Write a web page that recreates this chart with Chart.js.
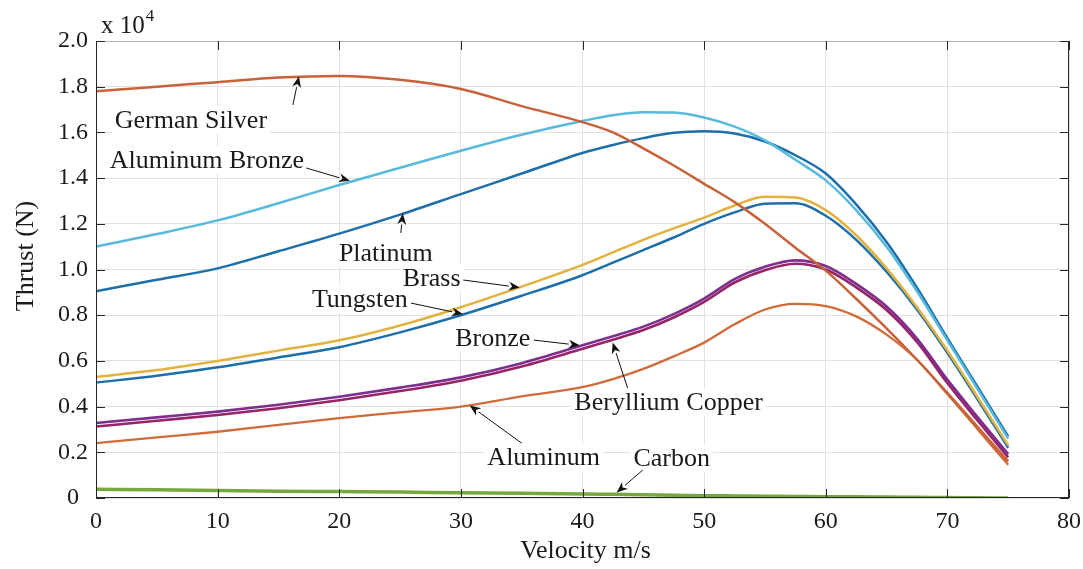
<!DOCTYPE html>
<html>
<head>
<meta charset="utf-8">
<script src="https://cdn.jsdelivr.net/npm/chart.js@4.4.1/dist/chart.umd.min.js"></script>
<style>
  html, body { margin: 0; padding: 0; background: #ffffff; }
  canvas { display: block; }
</style>
</head>
<body>
<canvas id="c" width="1083" height="569"></canvas>
<script>
// ---- Data (thrust in units of 10^4 N) ----
const velocity = [0, 5, 10, 15, 20, 25, 30, 35, 40, 42.5, 45, 47.5, 50, 52.5, 55, 57.5, 60, 62.5, 65, 67.5, 70, 72.5, 75];

const germanSilver   = [1.78, 1.80, 1.82, 1.84, 1.847, 1.83, 1.79, 1.715, 1.645, 1.60, 1.53, 1.455, 1.375, 1.295, 1.20, 1.095, 0.995, 0.872, 0.742, 0.605, 0.46, 0.31, 0.16];
const aluminumBronze = [1.10, 1.155, 1.215, 1.29, 1.37, 1.445, 1.52, 1.59, 1.65, 1.675, 1.688, 1.687, 1.665, 1.625, 1.565, 1.48, 1.39, 1.26, 1.10, 0.905, 0.69, 0.475, 0.26];
const platinum       = [0.905, 0.955, 1.005, 1.08, 1.157, 1.24, 1.33, 1.42, 1.51, 1.545, 1.575, 1.598, 1.605, 1.595, 1.56, 1.50, 1.42, 1.285, 1.12, 0.92, 0.70, 0.485, 0.27];
const brass          = [0.53, 0.56, 0.60, 0.645, 0.69, 0.755, 0.835, 0.925, 1.02, 1.075, 1.13, 1.18, 1.227, 1.28, 1.318, 1.315, 1.26, 1.15, 1.005, 0.835, 0.645, 0.44, 0.23];
const tungsten       = [0.505, 0.535, 0.572, 0.615, 0.66, 0.725, 0.80, 0.885, 0.975, 1.03, 1.085, 1.14, 1.20, 1.25, 1.288, 1.29, 1.235, 1.13, 0.99, 0.825, 0.635, 0.43, 0.22];
const bronze         = [0.328, 0.353, 0.378, 0.408, 0.443, 0.483, 0.528, 0.59, 0.668, 0.708, 0.75, 0.805, 0.873, 0.958, 1.012, 1.04, 1.015, 0.937, 0.838, 0.698, 0.518, 0.353, 0.192];
const berylliumCopper= [0.313, 0.338, 0.363, 0.393, 0.428, 0.468, 0.513, 0.575, 0.653, 0.693, 0.735, 0.79, 0.858, 0.943, 0.997, 1.025, 1.00, 0.922, 0.823, 0.683, 0.503, 0.338, 0.178];
const aluminum       = [0.24, 0.265, 0.29, 0.32, 0.35, 0.375, 0.40, 0.445, 0.485, 0.52, 0.565, 0.62, 0.68, 0.76, 0.825, 0.85, 0.84, 0.795, 0.715, 0.605, 0.455, 0.30, 0.145];
const carbon         = [0.038, 0.036, 0.033, 0.03, 0.028, 0.026, 0.023, 0.021, 0.018, 0.016, 0.014, 0.012, 0.01, 0.009, 0.008, 0.007, 0.006, 0.005, 0.004, 0.003, 0.002, 0.001, 0.0];

const xTicks = [0, 10, 20, 30, 40, 50, 60, 70, 80];
const yTicks = [0, 0.2, 0.4, 0.6, 0.8, 1.0, 1.2, 1.4, 1.6, 1.8, 2.0];
const yTickLabels = ['0', '0.2', '0.4', '0.6', '0.8', '1.0', '1.2', '1.4', '1.6', '1.8', '2.0'];

const seriesNames = ['German Silver', 'Aluminum Bronze', 'Platinum', 'Brass', 'Tungsten', 'Bronze', 'Beryllium Copper', 'Aluminum', 'Carbon'];
const seriesValues = [germanSilver, aluminumBronze, platinum, brass, tungsten, bronze, berylliumCopper, aluminum, carbon];

// ---- Styles ----
const seriesColors = ['#C8623A', '#58B9DC', '#1D6FAA', '#E2B23E', '#1D6FAA', '#7E2F8E', '#962466', '#D06C3A', '#76A83E'];
const seriesWidths = [2.5, 2.5, 2.5, 2.5, 2.5, 2.6, 2.6, 2.3, 3.5];

// callout labels: text, label centre (data coords), arrow tail and head (data coords)
const callouts = [
  { text: 'German Silver',    at: [7.8, 1.654],  from: [16.19, 1.72],  to: [16.68, 1.845] },
  { text: 'Aluminum Bronze',  at: [9.12, 1.479], from: [17.3, 1.444],  to: [20.87, 1.388] },
  { text: 'Platinum',         at: [23.83, 1.072],from: [25.06, 1.16],  to: [25.23, 1.245] },
  { text: 'Brass',            at: [27.6, 0.963], from: [30.2, 0.954],  to: [34.84, 0.921] },
  { text: 'Tungsten',         at: [21.69, 0.871],from: [25.9, 0.853],  to: [30.16, 0.805] },
  { text: 'Bronze',           at: [32.62, 0.70], from: [36.0, 0.691],  to: [39.77, 0.668] },
  { text: 'Beryllium Copper', at: [47.08, 0.42], from: [43.71, 0.481], to: [42.48, 0.68] },
  { text: 'Aluminum',         at: [36.81, 0.179],from: [35.0, 0.24],   to: [30.73, 0.405] },
  { text: 'Carbon',           at: [47.33, 0.175],from: [44.95, 0.122], to: [42.81, 0.024] }
];

const SERIF = "'Liberation Serif', 'Times New Roman', 'DejaVu Serif', serif";
const TEXT = '#1a1a1a';
const AXIS = '#262626';

const datasets = seriesNames.map((name, i) => ({
  label: name,
  data: velocity.map((v, k) => ({ x: v, y: seriesValues[i][k] })),
  borderColor: seriesColors[i],
  backgroundColor: seriesColors[i],
  borderWidth: seriesWidths[i],
  pointRadius: 0,
  cubicInterpolationMode: 'monotone',
  fill: false
}));

const decorPlugin = {
  id: 'decor',
  beforeDatasetsDraw(chart) {
    const ctx = chart.ctx, xs = chart.scales.x, ys = chart.scales.y;
    ctx.save();
    ctx.font = '26px ' + SERIF;
    ctx.fillStyle = '#ffffff';
    callouts.forEach(c => {
      const w = ctx.measureText(c.text).width;
      const px = xs.getPixelForValue(c.at[0]), py = ys.getPixelForValue(c.at[1]);
      ctx.fillRect(px - w / 2 - 3, py - 14, w + 6, 28);
    });
    ctx.restore();
  },
  afterDatasetsDraw(chart) {
    const ctx = chart.ctx, xs = chart.scales.x, ys = chart.scales.y;
    const a = chart.chartArea;
    ctx.save();
    // callouts
    ctx.font = '26px ' + SERIF;
    ctx.fillStyle = TEXT;
    ctx.textAlign = 'center';
    ctx.textBaseline = 'middle';
    callouts.forEach(c => {
      ctx.fillText(c.text, xs.getPixelForValue(c.at[0]), ys.getPixelForValue(c.at[1]) + 1);
      const x1 = xs.getPixelForValue(c.from[0]), y1 = ys.getPixelForValue(c.from[1]);
      const x2 = xs.getPixelForValue(c.to[0]), y2 = ys.getPixelForValue(c.to[1]);
      const ang = Math.atan2(y2 - y1, x2 - x1);
      const hl = 11, hw = 4.5;
      const bx = x2 - hl * Math.cos(ang), by = y2 - hl * Math.sin(ang);
      ctx.strokeStyle = '#111';
      ctx.lineWidth = 1;
      ctx.beginPath(); ctx.moveTo(x1, y1); ctx.lineTo(bx, by); ctx.stroke();
      ctx.fillStyle = '#111';
      ctx.beginPath();
      ctx.moveTo(x2, y2);
      ctx.lineTo(bx + hw * Math.sin(ang), by - hw * Math.cos(ang));
      ctx.lineTo(x2 - hl * 0.7 * Math.cos(ang), y2 - hl * 0.7 * Math.sin(ang));
      ctx.lineTo(bx - hw * Math.sin(ang), by + hw * Math.cos(ang));
      ctx.closePath();
      ctx.fill();
      ctx.fillStyle = TEXT;
    });
    // box
    ctx.lineWidth = 1;
    ctx.strokeStyle = '#b8b8b8';
    ctx.beginPath(); ctx.moveTo(a.left, a.top + 0.5); ctx.lineTo(a.right, a.top + 0.5); ctx.stroke();
    ctx.strokeStyle = AXIS;
    ctx.beginPath();
    ctx.moveTo(a.right - 0.5, a.top); ctx.lineTo(a.right - 0.5, a.bottom);
    ctx.moveTo(a.left + 0.5, a.top); ctx.lineTo(a.left + 0.5, a.bottom);
    ctx.moveTo(a.left, a.bottom - 0.5); ctx.lineTo(a.right, a.bottom - 0.5);
    ctx.stroke();
    // inward ticks
    const tl = 9;
    ctx.beginPath();
    xTicks.forEach(v => {
      const px = Math.round(xs.getPixelForValue(v)) + 0.5;
      ctx.moveTo(px, a.bottom); ctx.lineTo(px, a.bottom - tl);
      ctx.moveTo(px, a.top); ctx.lineTo(px, a.top + tl);
    });
    yTicks.forEach(v => {
      const py = Math.round(ys.getPixelForValue(v)) + 0.5;
      ctx.moveTo(a.left, py); ctx.lineTo(a.left + tl, py);
      ctx.moveTo(a.right, py); ctx.lineTo(a.right - tl, py);
    });
    ctx.stroke();
    // exponent
    ctx.fillStyle = TEXT;
    ctx.textAlign = 'left';
    ctx.textBaseline = 'alphabetic';
    ctx.font = '25px ' + SERIF;
    ctx.fillText('x 10', a.left + 5, a.top - 8);
    const w = ctx.measureText('x 10').width;
    ctx.font = '17px ' + SERIF;
    ctx.fillText('4', a.left + 5 + w + 1, a.top - 20);
    // axis titles
    ctx.font = '26px ' + SERIF;
    ctx.textAlign = 'center';
    ctx.textBaseline = 'middle';
    ctx.fillText('Velocity m/s', (a.left + a.right) / 2 + 3, 551);
    ctx.save();
    ctx.translate(26, 256);
    ctx.rotate(-Math.PI / 2);
    ctx.fillText('Thrust (N)', 0, 0);
    ctx.restore();
    ctx.restore();
  }
};

new Chart(document.getElementById('c'), {
  type: 'line',
  data: { datasets },
  options: {
    responsive: false,
    devicePixelRatio: 1,
    animation: false,
    layout: { padding: { left: 0, right: 14, top: 41, bottom: 0 } },
    plugins: { legend: { display: false }, tooltip: { enabled: false } },
    scales: {
      x: {
        type: 'linear',
        min: 0, max: 80,
        afterFit(s) { s.height = 71; s.paddingLeft = 0; s.paddingRight = 0; },
        afterBuildTicks(s) { s.ticks = xTicks.map(v => ({ value: v })); },
        grid: { color: '#e2e2e2', drawTicks: false, lineWidth: 1 },
        border: { display: false },
        ticks: { font: { family: SERIF, size: 24 }, color: TEXT, padding: 9, maxRotation: 0, autoSkip: false }
      },
      y: {
        type: 'linear',
        min: 0, max: 2.0,
        afterFit(s) { s.width = 96; s.paddingTop = 0; s.paddingBottom = 0; },
        afterBuildTicks(s) { s.ticks = yTicks.map(v => ({ value: v })); },
        grid: { color: '#e2e2e2', drawTicks: false, lineWidth: 1 },
        border: { display: false },
        ticks: {
          font: { family: SERIF, size: 24 }, color: TEXT, padding: 8, crossAlign: 'center', autoSkip: false,
          callback(v) { const i = yTicks.findIndex(t => Math.abs(t - v) < 1e-9); return i >= 0 ? yTickLabels[i] : ''; }
        }
      }
    }
  },
  plugins: [decorPlugin]
});
</script>
</body>
</html>
